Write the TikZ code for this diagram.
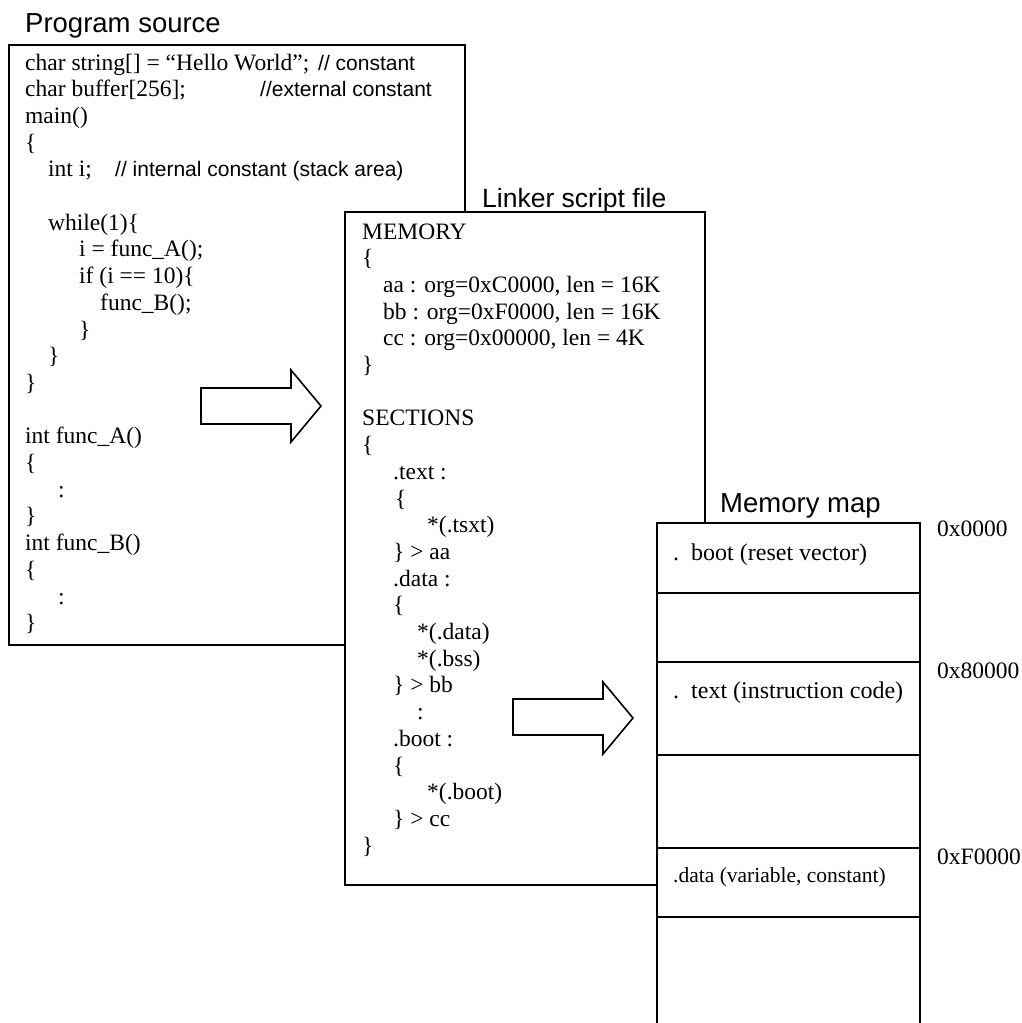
\documentclass[tikz,border=0pt]{standalone}
\usepackage{fontspec}
\setmainfont{Liberation Serif}
\setsansfont{Liberation Sans}
\tikzset{
  box/.style={draw, fill=white, line width=1.6pt, rectangle, inner sep=0pt, outer sep=0pt, anchor=north west},
  code/.style={font=\fontsize{23.5}{26.7}\selectfont, inner sep=0pt, anchor=base west},
  cmt/.style={font=\sffamily\fontsize{21}{26.7}\selectfont, inner sep=0pt, anchor=base west},
  ttl/.style={font=\sffamily\fontsize{27.5}{30}\selectfont, inner sep=0pt, anchor=base west},
  memtxt/.style={font=\fontsize{24}{26.7}\selectfont, inner sep=0pt, anchor=base west},
  memsmall/.style={font=\fontsize{21.5}{26.7}\selectfont, inner sep=0pt, anchor=base west},
  addr/.style={font=\fontsize{23.5}{26.7}\selectfont, inner sep=0pt, anchor=base west},
  blockarrow/.style={draw, fill=white, line width=1.6pt, line join=miter},
  divider/.style={line width=1.6pt},
}
\begin{document}
\begin{tikzpicture}[x=1pt, y=-1pt]
\useasboundingbox (0,0) rectangle (1022,1023);

% ---------- Program source ----------
\node[ttl] (tsrc) at (25,32) {Program source};
\node[box, minimum width=456pt, minimum height=600pt] (src) at (9,45) {};
\foreach \k/\xx/\t in {
  1/25/{char string[] = “Hello World”;},
  2/25/{char buffer[256];},
  3/25/{main()},
  4/25/{\{},
  5/48/{int i;},
  7/48/{while(1)\{},
  8/79/{i = func\_A();},
  9/79/{if (i == 10)\{},
  10/100/{func\_B();},
  11/79/{\}},
  12/48/{\}},
  13/25/{\}},
  15/25/{int func\_A()},
  16/25/{\{},
  17/58/{:},
  18/25/{\}},
  19/25/{int func\_B()},
  20/25/{\{},
  21/58/{:},
  22/25/{\}}
}{
  \node[code] (p\k) at (\xx,{70+(\k-1)*26.7}) {\t};
}
\node[cmt] (c1) at (318,70) {// constant};
\node[cmt] (c2) at (260,96.7) {//external constant};
\node[cmt] (c3) at (115,176.8) {// internal constant (stack area)};

% arrow 1
\coordinate (a1) at (201,370);
\draw[blockarrow] ([yshift=-18pt]a1) -- ++(90,0) -- ++(0,-18) -- ++(30,36) -- ++(-30,36) -- ++(0,-18) -- ++(-90,0) -- cycle;

% ---------- Linker script ----------
\node[ttl, font=\sffamily\fontsize{26.5}{30}\selectfont] (tlnk) at (482,207) {Linker script file};
\node[box, minimum width=360pt, minimum height=673pt] (lnk) at (345,212) {};
\foreach \k/\xx/\t in {
  1/362/{MEMORY},
  2/362/{\{},
  3/383/{aa : org=0xC0000, len = 16K},
  4/383/{bb : org=0xF0000, len = 16K},
  5/383/{cc : org=0x00000, len = 4K},
  6/362/{\}},
  8/362/{SECTIONS},
  9/362/{\{},
  10/393/{.text :},
  11/395/{\{},
  12/427/{*(.tsxt)},
  13/393/{\} > aa},
  14/393/{.data :},
  15/393/{\{},
  16/417/{*(.data)},
  17/417/{*(.bss)},
  18/393/{\} > bb},
  19/417/{:},
  20/393/{.boot :},
  21/393/{\{},
  22/427/{*(.boot)},
  23/393/{\} > cc},
  24/362/{\}}
}{
  \node[code] (l\k) at (\xx,{239+(\k-1)*26.7}) {\t};
}

% arrow 2
\coordinate (a2) at (513,681);
\draw[blockarrow] ([yshift=-18pt]a2) -- ++(90,0) -- ++(0,-17) -- ++(30,36) -- ++(-30,36) -- ++(0,-19) -- ++(-90,0) -- cycle;

% ---------- Memory map ----------
\node[ttl] (tmem) at (720,512) {Memory map};
\node[box, minimum width=263pt, minimum height=530pt] (mem) at (657,523) {};
\foreach \yy in {593,662,755,848,917}{
  \draw[divider] (mem.west |- 0,\yy) -- (mem.east |- 0,\yy);
}
\node[memtxt] (m1) at (673,560) {.\ \ boot (reset vector)};
\node[memtxt] (m2) at (673,698) {.\ \ text (instruction code)};
\node[memsmall] (m3) at (673,882) {.data (variable, constant)};
\node[addr] (ad1) at (937,536) {0x0000};
\node[addr] (ad2) at (937,678) {0x80000};
\node[addr] (ad3) at (937,864) {0xF0000};
\end{tikzpicture}
\end{document}
